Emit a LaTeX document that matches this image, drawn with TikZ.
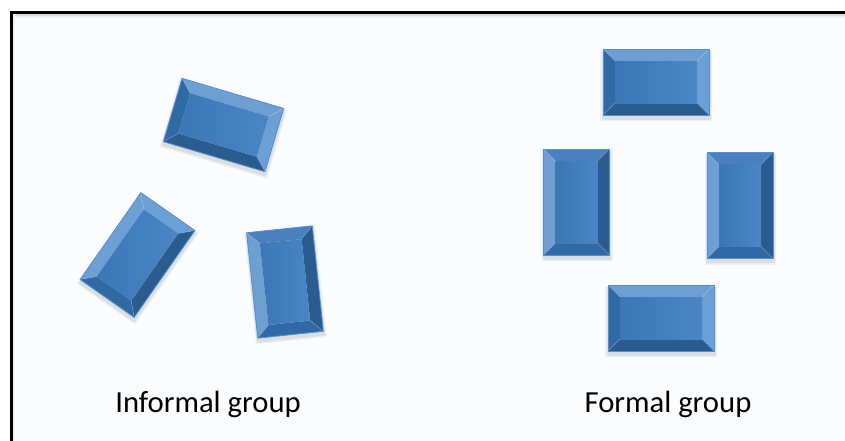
\documentclass[tikz,border=0pt]{standalone}
\usepackage{fontspec}
\setmainfont{Carlito}
\definecolor{bgcol}{HTML}{FBFCFD}
\definecolor{bvLight}{HTML}{6E9FD3}
\definecolor{bvLightR}{HTML}{6AA0D6}
\definecolor{bvMid}{HTML}{4A80BD}
\definecolor{bvDark}{HTML}{2B5C8F}
\definecolor{bvMidDark}{HTML}{3069A4}
\definecolor{bvFaceL}{HTML}{3B77B6}
\definecolor{bvFaceR}{HTML}{4A86C5}
\definecolor{bvEdge}{HTML}{5090D4}
\tikzset{
  frameline/.style={line width=2.25pt, black, line cap=rect},
  label/.style={font=\fontsize{23}{27}\selectfont, text=black, inner sep=0pt, anchor=base},
  boxedge/.style={draw=bvEdge, line width=0.6pt},
  seam/.style={draw=white, opacity=0.25, line width=0.4pt}
}
% cx, cy, angle, top, right, bottom, left (colours of the bevel faces before rotation)
\newcommand\bevelbox[7]{%
  \begin{scope}[shift={(#1,#2+3)},rotate=#3]
    \fill[black,opacity=0.05] (-56,-35) rectangle (56,36);
    \fill[black,opacity=0.07] (-54.5,-34) rectangle (54.5,34.5);
  \end{scope}
  \begin{scope}[shift={(#1,#2)},rotate=#3]
    \fill[#4] (-53,-33) -- (53,-33) -- (41,-21) -- (-41,-21) -- cycle;
    \fill[#5] (53,-33) -- (53,33) -- (41,21) -- (41,-21) -- cycle;
    \fill[#6] (53,33) -- (-53,33) -- (-41,21) -- (41,21) -- cycle;
    \fill[#7] (-53,33) -- (-53,-33) -- (-41,-21) -- (-41,21) -- cycle;
    \shade[left color=bvFaceL, right color=bvFaceR] (-41,-21) rectangle (41,21);
    \draw[seam] (-53,-33) -- (-41,-21) (53,-33) -- (41,-21) (53,33) -- (41,21) (-53,33) -- (-41,21);
    \draw[boxedge] (-53,-33) rectangle (53,33);
  \end{scope}}
\begin{document}
\begin{tikzpicture}[x=0.75pt,y=-0.75pt]
  \useasboundingbox (0,0) rectangle (845,440);
  \clip (0,0) rectangle (845,440);
  \fill[white] (0,0) rectangle (845,440);
  \fill[bgcol] (11,12) rectangle (860,460);
  \shade[top color=black!18, bottom color=bgcol] (12,13) rectangle (860,18);
  \shade[left color=black!10, right color=bgcol] (12,13) rectangle (15,460);
  \draw[frameline] (11,470) -- (11,12) -- (870,12);

  % informal group
  \bevelbox{223.5}{125}{-16.5}{bvLight}{bvLightR}{bvDark}{bvMidDark}
  \bevelbox{137.5}{255}{55}{bvLight}{bvLightR}{bvDark}{bvMidDark}
  \bevelbox{285}{282}{96}{bvLight}{bvMid}{bvDark}{bvMidDark}

  % formal group
  \bevelbox{656}{82}{0}{bvLight}{bvLightR}{bvDark}{bvMidDark}
  \bevelbox{576.5}{202}{90}{bvLight}{bvMid}{bvDark}{bvMidDark}
  \bevelbox{740}{205.5}{90}{bvLight}{bvMid}{bvDark}{bvMidDark}
  \bevelbox{661}{318}{0}{bvLight}{bvLightR}{bvDark}{bvMidDark}

  \node[label] (informal) at (208,412) {Informal group};
  \node[label] (formal) at (668,412) {Formal group};
\end{tikzpicture}
\end{document}
